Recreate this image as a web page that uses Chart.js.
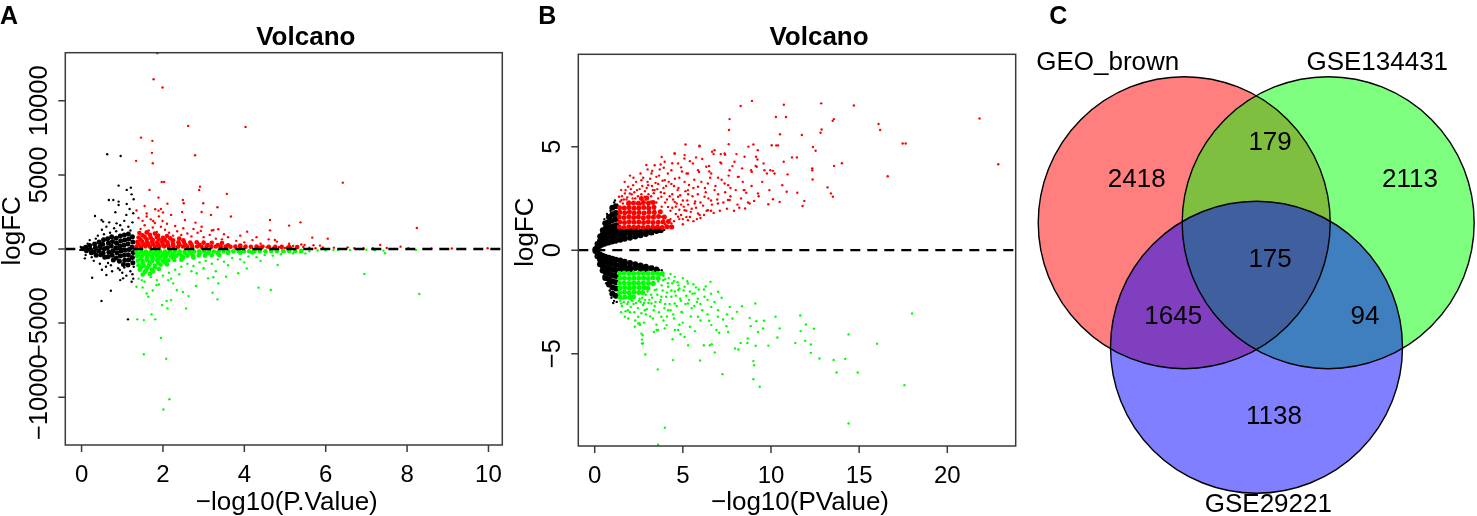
<!DOCTYPE html>
<html>
<head>
<meta charset="utf-8">
<script src="https://cdn.jsdelivr.net/npm/chart.js@4.4.1/dist/chart.umd.min.js"></script>
<style>
  html, body { margin: 0; padding: 0; background: #fff; }
  body { position: relative; width: 1477px; height: 516px; overflow: hidden; }
  canvas { position: absolute; top: 0; }
  #cvA { left: 0; }
  #cvB { left: 505px; }
  #cvC { left: 1025px; }
</style>
</head>
<body>
<canvas id="cvA" width="505" height="516"></canvas>
<canvas id="cvB" width="520" height="516"></canvas>
<canvas id="cvC" width="452" height="516"></canvas>
<script>
'use strict';

// ── Panel A: logFC vs -log10(P.Value) ───────────────────────
const aXTicks = [0, 2, 4, 6, 8, 10];
const aYTicks = [-10000, -5000, 0, 5000, 10000];

// packed core of non-significant genes
const aNsCore = [[0.03,20],[0.1,120],[0.12,-110],[0.2,230],[0.22,-40],[0.24,-260],[0.32,340],[0.34,60],[0.31,-200],[0.36,-420],
  [0.43,480],[0.45,180],[0.42,-110],[0.47,-380],[0.54,620],[0.52,320],[0.56,20],[0.53,-270],[0.57,-560],[0.64,700],[0.66,400],
  [0.63,90],[0.67,-220],[0.65,-520],[0.74,820],[0.76,510],[0.73,200],[0.77,-120],[0.75,-430],[0.78,-740],[0.85,720],[0.86,380],
  [0.84,60],[0.87,-260],[0.85,-600],[0.95,880],[0.96,540],[0.94,200],[0.97,-140],[0.95,-480],[0.93,-820],[1.05,950],[1.06,600],
  [1.04,260],[1.07,-90],[1.05,-420],[1.06,-760],[1.03,-1050],[1.15,1020],[1.16,680],[1.14,330],[1.17,-30],[1.15,-380],[1.16,-720],
  [1.14,-1080],[1.25,830],[1.26,480],[1.24,120],[1.27,-230],[1.25,-580],[1.26,-920]];
const aNs = [[0.63,6400],[0.96,6280],[0.91,4280],[1.11,3990],[1.21,4140],[1.23,3690],[0.67,3310],[0.78,3310],[0.91,3200],[0.91,2970],
  [1.11,3040],[1.28,3360],[0.33,2230],[0.83,2480],[0.49,1960],[0.53,1850],[0.61,1510],[0.86,1730],[1.27,2410],[0.26,-1940],
  [0.72,-2820],[0.49,-3510],[1.14,-4750],[1.02,-1980],[1.23,-2210],[0.61,-1760],[0.94,-1420],[0.08,-630],[0.2,600],[0.3,-800],
  [0.4,900],[0.45,-1000],[0.5,1300],[0.6,-1200],[0.7,1100],[0.75,-1500],[0.8,1400],[0.9,-1300],[0.95,1600],[1.0,-1600],[1.05,1900],
  [1.1,-1800],[1.15,1500],[1.2,-1500],[1.25,1800],[1.28,-1200],[0.55,1000],[0.65,-950],[0.85,1200],[1.0,1300],[1.2,1250],[0.35,700],
  [0.25,-550],[0.15,350],[0.1,-400],[-0.02,140],[-0.03,-60],[1.1,2300],[0.95,-2100],[1.27,-2000],[0.68,1800],[0.5,-1400],[1.18,2700],
  [1.05,-1250],[0.72,-1100],[1.25,-1700]];
const aUpCore = [[1.35,170],[1.46,150],[1.57,180],[1.68,160],[1.8,170],[1.91,150],[2.03,180],[2.14,160],[2.26,170],[2.37,150],[2.49,170],
  [2.6,160],[2.72,150],[2.84,170],[2.95,150],[3.07,160],[3.19,150],[3.3,170],[3.42,150],[3.54,160],[3.66,150],[3.78,160],[3.9,150],
  [4.03,160],[4.16,150],[4.3,160],[4.44,150],[4.6,150],[4.76,140],[4.92,140],[5.1,140],[5.3,130],
  [1.4,320],[1.52,340],[1.64,310],[1.76,330],[1.88,300],[2.0,320],[2.12,310],[2.25,300],[2.4,310],[2.55,290],[2.7,300],[2.9,280],
  [3.1,270],[3.35,260],[3.6,250],[3.9,240],
  [1.37,470],[1.49,500],[1.61,460],[1.73,490],[1.86,450],[1.98,480],[2.11,460],[2.24,490],[2.38,450],[2.52,470],[2.67,440],[2.83,460],
  [3.0,430],[3.2,420],[3.45,400],[1.45,630],[1.6,650],[1.75,610],[1.9,640],[2.05,600],[2.25,590],[2.5,580],
  [1.4,780],[1.55,820],[1.7,760],[1.85,800],[2.0,750],[2.18,720],[2.4,700],[1.5,930],[1.68,950],[1.88,900],[2.1,880],
  [1.42,1080],[1.6,1120],[1.8,1040]];
const aUp = [[1.86,13220],[1.77,11460],[1.99,10900],[2.62,8310],[4.03,8240],[1.46,7520],[1.74,7300],[1.73,6490],[1.75,5790],[1.34,5950],
  [2.79,6330],[1.97,4530],[2.03,4530],[6.42,4480],[2.91,4210],[2.89,3990],[1.67,3990],[3.57,3720],[1.89,3470],[2.49,3310],[2.51,3090],
  [2.11,3060],[2.99,3090],[3.34,2820],[1.81,2680],[1.89,2590],[2.47,2500],[2.95,2500],[2.0,2460],[3.18,2300],[1.6,2190],[3.67,2190],
  [2.54,1960],[4.63,1960],[1.76,1890],[1.99,1890],[2.8,1780],[5.38,1800],[5.1,1580],[8.24,1420],[4.63,1260],[2.93,1220],[4.07,1170],
  [3.24,1280],[3.36,1330],[5.67,770],[6.05,700],[4.75,610],[7.34,270],[6.54,110],[6.93,50],[7.16,50],[7.84,160],[8.03,50],[9.98,50],
  [5.93,110],[5.86,230],[5.48,270],[5.2,200],[5.04,110],[4.36,160],[4.47,200],
  [1.45,1350],[1.55,1600],[1.65,1250],[1.75,1450],[1.85,1150],[1.95,1500],[2.05,1300],[2.15,1100],[2.25,900],[2.35,1200],[2.45,950],
  [2.6,1050],[2.7,850],[2.85,1100],[3.0,800],[3.15,950],[3.3,700],[3.45,650],[3.6,800],[3.8,550],[4.0,450],[4.2,600],[4.4,350],
  [1.4,2100],[1.5,1900],[1.6,2400],[1.7,2000],[1.8,1750],[1.9,2200],[2.1,1700],[2.3,1550],[2.5,1400],[2.75,1350],[2.95,1500],
  [3.2,1250],[3.5,1000],[3.9,900],[4.3,800],[4.8,500],[5.1,350],[5.4,300],[5.7,250],[4.6,650],[1.35,2600],[1.55,2900],[1.95,2700],
  [2.2,2300],[4.55,120],[4.7,90],[4.85,140],[5.0,70],[5.15,110],[5.3,60],[5.45,130],[5.6,80],[5.75,50],[6.2,90],[6.7,60],[7.5,70],
  [8.6,40],[9.1,30]];
const aDownCore = [[1.35,-170],[1.47,-160],[1.58,-180],[1.7,-150],[1.82,-170],[1.93,-160],[2.05,-180],[2.17,-150],[2.29,-170],[2.41,-160],
  [2.53,-180],[2.65,-150],[2.77,-170],[2.89,-160],[3.01,-170],[3.13,-150],[3.25,-170],[3.37,-160],[3.49,-170],[3.61,-150],[3.73,-160],
  [3.86,-150],[3.99,-160],[4.12,-150],[4.25,-160],[4.38,-150],[4.52,-150],[4.66,-140],[4.8,-150],[4.95,-140],[5.1,-140],[5.25,-130],
  [5.4,-130],[1.4,-330],[1.52,-320],[1.64,-340],[1.76,-310],[1.88,-330],[2.0,-320],[2.12,-310],[2.25,-330],[2.4,-310],[2.55,-300],
  [2.7,-310],[2.9,-300],[3.1,-290],[3.35,-280],[3.6,-270],[3.9,-250],[4.2,-240],
  [1.36,-480],[1.48,-510],[1.6,-470],[1.72,-500],[1.84,-460],[1.96,-490],[2.08,-470],[2.2,-500],[2.33,-460],[2.46,-480],
  [2.6,-450],[2.74,-470],[2.88,-440],[3.03,-450],[3.2,-420],[3.38,-410],[1.45,-640],[1.6,-650],[1.75,-620],[1.9,-640],[2.05,-610],
  [2.25,-600],[2.5,-590],[2.75,-580],[1.38,-790],[1.5,-820],[1.62,-780],[1.74,-810],[1.86,-770],
  [1.99,-800],[2.13,-760],[2.28,-740],[2.45,-720],[1.5,-950],[1.68,-960],[1.88,-930],[2.05,-900],
  [1.4,-1100],[1.53,-1130],[1.66,-1080],[1.8,-1110],[1.94,-1060],[2.1,-1040],[1.46,-1250],[1.62,-1260],[1.8,-1230],
  [1.43,-1400],[1.58,-1440],[1.73,-1380],[1.9,-1350],[1.55,-1550],[1.75,-1520],[1.5,-1720],[1.68,-1680]];
const aDown = [[2.01,-10830],[2.16,-10140],[1.53,-7100],[2.08,-7410],[1.95,-6010],[1.37,-4750],[1.53,-4800],[1.81,-4750],[1.72,-4410],
  [1.98,-3780],[2.09,-3510],[2.11,-4010],[2.2,-3450],[3.34,-3400],[3.22,-2950],[2.57,-4010],[2.49,-2900],[2.63,-3180],[2.81,-2500],
  [4.35,-2610],[4.65,-2770],[8.3,-3040],[6.95,-1690],[4.82,-1080],[3.24,-1910],[3.36,-2320],[3.85,-1640],[3.55,-1870],[4.06,-1310],
  [7.46,-290],[7.42,-110],[5.2,-290],[5.0,-180],[5.37,-230],[6.19,-70],[8.22,-70],[2.34,-2770],[2.83,-1640],[3.11,-1980],[2.25,-2320],
  [2.13,-2100],[1.84,-2430],[1.64,-3220],[1.35,-2550],[1.48,-2100],
  [1.4,-2000],[1.55,-2200],[1.7,-1900],[1.85,-2100],[2.0,-1800],[2.15,-1600],[2.3,-1400],[2.45,-1200],[2.6,-1000],[2.75,-1150],
  [2.9,-900],[3.05,-800],[3.2,-1000],[3.35,-700],[3.5,-850],[3.7,-600],[3.9,-700],[4.1,-500],[4.3,-550],[4.5,-400],[4.7,-450],
  [4.9,-350],[5.5,-300],[5.6,-150],[5.8,-100],[6.0,-80],[6.3,-60],[6.6,-70],[7.0,-50],[7.2,-80],[1.5,-2600],[1.75,-2800],[1.6,-3000],
  [2.2,-2000],[2.4,-1700],[2.7,-1500],[3.0,-1300],[3.3,-1500],[3.6,-1100],[4.0,-900],[4.4,-800],[1.9,-2400]];

// ── Panel B: logFC vs -log10(PValue) ────────────────────────
const bXTicks = [0, 5, 10, 15, 20];
const bYTicks = [-5, 0, 5];

const bNsCore = [[0.04,0.04],[0.14,0.12],[0.16,0.3],[0.28,0.2],[0.3,0.44],[0.31,0.66],[0.43,0.27],[0.45,0.5],[0.44,0.74],[0.46,0.96],
  [0.59,0.32],[0.61,0.55],[0.6,0.8],[0.62,1.05],[0.6,1.3],[0.79,0.37],[0.81,0.6],[0.8,0.85],[0.82,1.1],[0.79,1.36],[0.81,1.6],
  [0.99,0.42],[1.01,0.65],[1.0,0.9],[1.02,1.16],[0.99,1.44],[1.01,1.74],[1.0,2.05],[1.19,0.46],[1.21,0.7],[1.2,0.95],[1.22,1.2],
  [1.19,1.5],[1.21,1.8],[1.2,2.12],[1.45,0.5],[1.46,0.73],[1.44,0.92],[1.7,0.55],[1.72,0.78],[1.69,0.93],[2.0,0.6],[2.01,0.8],
  [1.99,0.94],[2.3,0.66],[2.31,0.84],[2.29,0.95],[2.6,0.72],[2.61,0.89],[2.9,0.78],[2.91,0.92],[3.2,0.85],[3.21,0.95],[3.5,0.92],
  [3.75,0.96],[0.04,-0.04],[0.15,-0.12],[0.16,-0.3],[0.29,-0.2],[0.3,-0.45],[0.3,-0.68],[0.44,-0.27],[0.45,-0.52],[0.45,-0.76],[0.45,-0.98],
  [0.6,-0.32],[0.61,-0.56],[0.6,-0.82],[0.62,-1.08],[0.6,-1.34],[0.8,-0.37],[0.8,-0.62],[0.81,-0.88],[0.8,-1.14],[0.8,-1.4],
  [0.81,-1.66],[1.0,-0.42],[1.0,-0.66],[1.01,-0.92],[1.0,-1.2],[1.0,-1.5],[1.01,-1.8],[1.0,-2.1],[1.2,-0.46],[1.2,-0.72],[1.21,-0.97],
  [1.2,-1.25],[1.2,-1.55],[1.21,-1.85],[1.2,-2.2],[1.45,-0.5],[1.46,-0.74],[1.44,-0.93],[1.7,-0.56],[1.71,-0.79],[1.7,-0.94],
  [2.0,-0.62],[2.0,-0.82],[2.0,-0.95],[2.3,-0.68],[2.3,-0.86],[2.6,-0.74],[2.6,-0.9],[2.9,-0.8],[2.9,-0.93],[3.2,-0.87],[3.5,-0.93]];
const bNs = [[0.7,1.75],[0.9,1.9],[1.1,2.3],[0.65,-1.6],[0.85,-1.95],[1.1,-2.45],[1.25,-2.5],[0.95,-2.3],[1.15,2.4],[0.55,1.5],
  [0.5,-1.25],[1.05,-2.55],[3.7,0.95],[3.8,-0.97],[3.3,0.78],[3.3,-0.8],[3.95,0.98],[3.65,-0.96]];
const bUpCore = [[1.4,1.12],[1.67,1.1],[1.94,1.13],[2.21,1.11],[2.48,1.12],[2.75,1.1],[3.02,1.12],[3.29,1.11],[3.56,1.12],[3.83,1.1],
  [4.1,1.13],[4.37,1.12],[1.42,1.36],[1.69,1.34],[1.96,1.37],[2.23,1.35],[2.5,1.36],[2.77,1.34],[3.04,1.37],[3.31,1.33],[3.6,1.35],
  [3.88,1.36],[4.18,1.38],[1.4,1.6],[1.67,1.58],[1.94,1.61],[2.21,1.58],[2.48,1.6],[2.76,1.57],[3.05,1.6],[3.33,1.59],[3.62,1.62],
  [3.95,1.6],[1.43,1.83],[1.7,1.81],[1.97,1.84],[2.24,1.8],[2.52,1.82],[2.8,1.8],[3.08,1.83],[3.38,1.82],[3.72,1.85],
  [1.41,2.05],[1.68,2.03],[1.95,2.06],[2.23,2.02],[2.5,2.04],[2.78,2.06],[3.06,2.03],[3.36,2.07],[1.92,2.27],[2.2,2.28],
  [2.48,2.26],[2.76,2.3],[3.05,2.28],[3.32,2.3],[2.65,2.5],[2.95,2.52]];
const bUp = [[8.92,7.21],[8.28,6.96],[10.73,7.02],[12.85,7.09],[14.7,6.99],[21.83,6.36],[7.65,6.33],[10.28,6.43],[10.85,6.43],[13.5,6.25],
  [13.57,6.33],[16.1,6.09],[16.19,5.8],[7.62,5.8],[10.51,5.6],[11.75,5.56],[12.81,5.67],[12.87,5.83],[17.47,5.15],[17.64,5.15],
  [5.15,5.1],[5.94,5.02],[7.6,5.12],[9.0,5.1],[8.72,5.0],[10.04,5.07],[10.3,5.06],[10.4,5.06],[12.38,4.98],[12.53,4.8],[22.89,4.15],
  [16.62,3.57],[13.58,4.07],[14.02,4.2],[13.21,3.03],[13.4,2.74],[13.51,2.58],[11.89,2.38],[11.79,2.13],[12.34,3.95],[12.34,3.86],
  [12.36,3.41],[11.49,2.77],[11.19,4.48],[11.47,4.48],[10.72,4.27],[10.94,3.66],[10.89,2.82],[10.64,3.14],[10.49,2.33],[10.11,2.46],
  [9.96,3.86],[9.77,3.7],[10.11,3.83],[9.58,4.19],[9.15,4.51],[9.23,4.38],[9.13,4.07],[9.19,4.03],[8.91,3.78],[9.26,2.74],[9.04,2.38],
  [9.85,2.22],[8.45,2.9],[8.6,2.77],[8.36,3.95],[7.81,4.06],[8.04,4.64],[7.4,4.61],[7.15,4.64],[6.74,4.64],[6.66,4.75],[7.13,4.24],
  [6.49,4.07],[5.75,4.48],[4.53,4.67],[5.09,4.43],[3.74,4.14],[3.92,3.98],[3.26,3.82],[5.21,3.7],[5.92,3.78],[8.17,3.54],[7.57,3.14],
  [8.79,2.25],[8.53,2.01],[7.66,2.42],
  [4.54,4.67],[5.95,5.04],[4.73,4.19],[3.69,3.9],[3.22,3.7],[2.65,3.38],[2.18,3.14],[1.71,2.74],[1.99,2.74],[3.03,3.14],[3.97,3.38],
  [5.29,3.7],[5.86,3.86],[6.61,3.7],[7.18,4.19],[7.93,4.27],[8.12,3.54],[7.37,3.22],[6.8,2.9],[6.23,2.58],[5.67,2.25],[5.1,1.93],
  [4.73,1.61],[4.35,1.29],[4.16,2.09],[3.78,2.58],[3.4,2.9],[4.73,2.58],[5.29,2.9],[5.86,3.06],[6.42,3.22],[6.99,2.25],[7.56,2.42],
  [8.5,2.9],[8.87,3.86],[9.25,4.83],[8.5,4.51],[7.65,3.86],[6.8,4.83],[6.33,4.03],[5.57,4.19],[4.35,3.86],[3.5,3.54],[2.84,2.58],
  [2.46,2.33],[2.27,2.09],[3.4,1.93],[3.78,1.61],[5.86,1.77],[6.42,1.93],[5.29,1.45],[4.16,1.13],[3.03,2.17],[4.54,2.33],[1.52,2.42],
  [1.9,3.06],[1.38,2.58],[2.93,4.11],[3.97,4.27],[5.1,4.59],[7.37,4.67],[9.63,3.86],[9.91,2.9],[10.2,3.7],
  [2.0,2.3],[2.3,2.5],[2.6,2.2],[2.9,2.45],[3.2,2.6],[3.5,2.3],[3.8,2.1],[4.1,2.45],[4.4,2.7],[4.7,2.9],[5.0,2.4],[5.3,2.7],[5.6,3.0],
  [3.3,2.9],[3.6,3.2],[3.9,3.0],[4.2,3.3],[4.5,3.1],[4.8,3.5],[5.1,3.3],[2.4,2.9],[2.7,3.1],[3.0,3.3],[1.6,2.25],[1.8,2.45],[2.1,2.7],
  [2.5,1.95],[2.8,2.1],[3.1,1.9],[3.4,1.7],[3.7,1.8],[4.0,1.6],[4.3,1.9],[4.6,2.1],[4.9,1.7],[5.2,1.9],[5.5,2.0],[6.0,2.3],[6.3,2.8],
  [6.6,2.4],[7.0,2.7],[7.3,2.3],[7.7,2.6],[8.1,2.2],[8.3,2.5],[4.0,1.25],[4.5,1.4],[5.0,1.25],[3.9,1.45],[4.2,1.15],[4.8,1.5],
  [5.4,1.6],[5.8,1.5],[6.2,1.7],[6.6,1.9],
  [1.45,2.35],[1.55,2.6],[1.65,2.45],[1.75,2.9],[1.85,2.55],[1.95,2.35],[2.05,2.95],[2.15,2.5],[2.25,2.8],[2.35,3.3],[2.45,2.6],
  [2.55,2.95],[2.65,2.7],[2.75,3.5],[2.85,2.85],[2.95,3.0],[3.05,2.7],[3.15,3.45],[3.25,3.1],[3.35,2.75],[3.45,3.25],[3.55,2.95],
  [3.65,3.6],[3.75,2.8],[3.85,3.35],[3.95,2.75],[4.05,3.1],[4.15,3.7],[4.25,2.6],[4.35,3.2],[4.45,2.45],[4.55,3.45],[4.65,2.25],
  [4.75,3.0],[4.85,2.65],[4.95,3.8],[5.05,2.1],[5.15,2.85],[5.25,2.4],[5.35,3.15],[5.45,1.85],[5.55,2.6],[5.65,3.4],[5.75,2.05],
  [5.85,2.7],[5.95,1.7],[6.05,3.3],[6.15,2.15],[6.25,3.0],[6.35,1.9],[6.45,2.5],[6.55,3.5],[6.65,2.2],[6.75,1.8],[6.85,3.1],[6.95,2.45],
  [7.1,1.9],[7.2,3.4],[7.4,2.8],[7.5,2.0],[7.7,3.0],[7.9,1.9],[8.0,2.9],[8.2,2.05],[8.4,3.3],[8.7,2.3],[8.9,3.1],[9.3,2.6],[9.5,3.3],
  [3.2,2.35],[3.6,2.5],[4.0,2.3],[4.4,2.05],[4.8,1.95],[5.2,1.6],[5.6,1.4],[6.0,1.55],[4.3,1.5],[4.6,1.75],[5.0,1.5],[4.9,2.2],
  [5.3,2.2],[5.7,2.35],[2.2,3.5],[2.6,3.7],[3.0,3.9],[3.4,4.1],[3.8,4.5],[4.4,4.2],[4.9,4.0],[5.4,4.3],[6.1,4.4],[6.5,3.8],[7.0,3.5],
  [7.6,3.6],[1.5,2.9],[1.7,3.3],[1.9,2.2],[2.0,3.6]];
const bDownCore = [[1.4,-1.12],[1.67,-1.1],[1.94,-1.13],[2.21,-1.11],[2.48,-1.12],[2.75,-1.1],[3.02,-1.12],[3.29,-1.11],[3.56,-1.12],
  [3.83,-1.13],[1.42,-1.36],[1.69,-1.34],[1.96,-1.37],[2.23,-1.35],[2.5,-1.36],[2.77,-1.34],[3.04,-1.37],[3.3,-1.33],[3.6,-1.36],
  [1.4,-1.6],[1.67,-1.58],[1.94,-1.61],[2.21,-1.58],[2.48,-1.6],[2.76,-1.57],[3.05,-1.6],[3.32,-1.6],[1.43,-1.83],[1.7,-1.81],
  [1.97,-1.84],[2.24,-1.8],[2.52,-1.82],[2.8,-1.8],[3.02,-1.84],[1.41,-2.05],[1.68,-2.03],[1.95,-2.06],[2.23,-2.02],[2.5,-2.04],
  [2.72,-2.05],[1.44,-2.27],[1.72,-2.26],[2.0,-2.28],[2.2,-2.25]];
const bDown = [[18.0,-3.06],[14.4,-4.07],[16.02,-4.52],[17.57,-6.52],[14.4,-8.37],[3.98,-8.58],[3.6,-9.4],[14.92,-5.91],[13.72,-5.91],
  [13.55,-5.3],[14.21,-5.25],[12.75,-5.23],[12.26,-4.96],[12.26,-4.56],[11.94,-4.38],[11.98,-3.59],[11.68,-3.91],[12.43,-3.8],
  [11.66,-3.16],[11.38,-4.48],[9.36,-6.6],[9.0,-6.23],[9.0,-5.36],[9.04,-5.56],[9.13,-4.62],[9.11,-2.58],[9.17,-3.43],[9.26,-3.95],
  [8.79,-3.27],[8.85,-3.67],[9.6,-3.41],[9.55,-3.78],[9.85,-4.61],[10.26,-3.22],[10.49,-3.78],[10.36,-4.22],[8.68,-4.27],[8.66,-4.48],
  [8.28,-4.48],[7.96,-4.75],[8.15,-4.8],[7.25,-5.99],[5.98,-5.33],[4.45,-5.31],[3.58,-5.76],[2.87,-5.04],[2.68,-4.51],[2.68,-4.32],
  [2.72,-4.11],[2.47,-3.54],[2.57,-3.62],[3.36,-3.95],[3.51,-3.86],[3.98,-3.78],[4.08,-3.62],[4.55,-3.86],[4.42,-4.3],[4.87,-4.06],
  [5.3,-4.59],[5.68,-3.91],[6.19,-4.59],[6.53,-4.59],[6.64,-4.54],[6.81,-4.94],[6.49,-3.41],[6.62,-3.62],[6.91,-3.86],[7.06,-3.99],
  [7.28,-3.35],[7.47,-3.67],[7.57,-3.95],[7.81,-3.3],[8.08,-2.98],[8.36,-2.71],[7.66,-2.74],[6.57,-1.53],[7.0,-2.01],
  [1.51,-2.58],[1.89,-2.9],[2.46,-3.22],[2.55,-3.54],[2.65,-4.03],[2.74,-4.51],[3.59,-3.86],[3.78,-3.22],[4.16,-2.9],[4.54,-2.58],
  [4.92,-2.98],[5.29,-2.58],[5.67,-2.09],[4.73,-1.93],[4.16,-1.77],[3.78,-2.25],[3.22,-2.58],[2.84,-2.9],[2.08,-2.42],[1.71,-3.22],
  [2.27,-3.7],[4.35,-2.25],[5.1,-1.77],[6.23,-2.25],[6.61,-2.74],[6.99,-3.22],[5.86,-3.22],[4.73,-3.86],[5.1,-4.19],[3.4,-1.93],
  [3.88,-1.45],[4.54,-1.29],[5.29,-1.61],[3.59,-1.29],
  [1.6,-2.35],[1.9,-2.5],[2.2,-2.6],[2.5,-2.45],[2.8,-2.55],[3.1,-2.4],[3.4,-2.7],[3.7,-2.5],[4.0,-2.6],[4.3,-2.9],[4.6,-2.2],
  [4.9,-2.45],[5.2,-2.2],[5.5,-2.8],[5.8,-2.5],[6.1,-2.9],[2.0,-3.0],[2.9,-3.1],[3.3,-3.3],[3.9,-3.4],[4.5,-3.3],[5.0,-3.5],[6.4,-3.1],
  [3.5,-1.9],[3.8,-1.7],[4.1,-2.05],[4.4,-1.6],[4.8,-1.85],[5.0,-1.35],[5.4,-2.0],[5.9,-1.9],[6.3,-1.75],[3.7,-1.2],[4.0,-1.4],
  [4.3,-1.15],[4.7,-1.55],[5.6,-1.65],
  [1.45,-2.45],[1.55,-2.7],[1.65,-2.5],[1.75,-2.95],[1.85,-2.6],[1.95,-2.35],[2.05,-2.75],[2.15,-2.45],[2.25,-3.0],[2.35,-2.55],
  [2.45,-2.8],[2.55,-2.35],[2.65,-3.05],[2.75,-2.65],[2.85,-2.4],[2.95,-2.85],[3.05,-2.55],[3.15,-3.2],[3.25,-2.3],[3.35,-2.9],
  [3.45,-2.5],[3.55,-2.15],[3.65,-3.0],[3.75,-2.4],[3.85,-1.95],[3.95,-2.8],[4.05,-2.25],[4.15,-1.6],[4.25,-2.6],[4.35,-1.95],
  [4.45,-3.1],[4.55,-2.0],[4.65,-2.7],[4.75,-1.7],[4.85,-2.35],[4.95,-3.0],[5.05,-1.95],[5.15,-2.6],[5.25,-1.5],[5.35,-2.4],
  [5.45,-3.2],[5.55,-2.1],[5.65,-2.7],[5.75,-1.8],[5.85,-2.35],[6.0,-2.6],[6.2,-1.9],[6.4,-2.4],[6.6,-2.1],[6.8,-2.5],[7.0,-2.9],
  [7.2,-2.3],[7.5,-3.1],[3.9,-1.25],[4.2,-1.35],[4.5,-1.5],[3.6,-1.5],[3.3,-1.7],[3.0,-2.0],[3.2,-2.15],[2.7,-2.3],[2.9,-2.15],
  [2.6,-2.5],[1.5,-3.0],[1.9,-3.3],[2.3,-3.4],[2.8,-3.5],[3.5,-3.6],[4.1,-3.2],[4.8,-3.6],[5.4,-3.7],[6.0,-3.4]];

// ── Panel C: Venn counts ────────────────────────────────────
const vennSets = ['GEO_brown', 'GSE134431', 'GSE29221'];
const vennCounts = [2418, 179, 2113, 175, 1645, 94, 1138];
// layout in circle-radius units: circle centres, count and name anchors
const vennCentres = [[-0.493, 0], [0.493, 0], [0.002, -0.853]];
const vennCountPos = [[-0.818, 0.292], [0.095, 0.544], [1.053, 0.292], [0.095, -0.251], [-0.568, -0.644], [0.745, -0.644], [0.122, -1.329]];
const vennNamePos = [[-1.017, 1.097], [0.829, 1.097], [0.083, -1.934]];

const FONT = '"Liberation Sans", Arial, Helvetica, sans-serif';
const fmt = v => (v < 0 ? '\u2212' + Math.abs(v) : String(v));

// ── R-style frame, ticks, labels, dashed zero line ──────────
const rFrame = {
    id: 'rFrame',
    afterDatasetsDraw(chart, args, o) {
        const { ctx, chartArea: a, scales: { x, y } } = chart;
        const y0 = y.getPixelForValue(0);
        ctx.save();
        ctx.strokeStyle = '#000';
        ctx.lineWidth = 2.4;
        ctx.setLineDash([10, 7]);
        ctx.beginPath(); ctx.moveTo(a.left, y0); ctx.lineTo(a.right, y0); ctx.stroke();
        ctx.setLineDash([]);

        ctx.strokeStyle = '#3a3a3a';
        ctx.lineWidth = 1.5;
        ctx.strokeRect(a.left, a.top, a.right - a.left, a.bottom - a.top);
        ctx.beginPath();
        o.xTicks.forEach(v => { const p = x.getPixelForValue(v); ctx.moveTo(p, a.bottom); ctx.lineTo(p, a.bottom + 7); });
        o.yTicks.forEach(v => { const p = y.getPixelForValue(v); ctx.moveTo(a.left, p); ctx.lineTo(a.left - 7, p); });
        ctx.stroke();

        ctx.fillStyle = '#000';
        ctx.textAlign = 'center';
        ctx.textBaseline = 'alphabetic';
        ctx.font = `24px ${FONT}`;
        o.xTicks.forEach(v => ctx.fillText(fmt(v), x.getPixelForValue(v), a.bottom + 36.5));
        ctx.font = `25.5px ${FONT}`;
        o.yTicks.forEach(v => {
            ctx.save();
            ctx.translate(a.left - 18.5, y.getPixelForValue(v));
            ctx.rotate(-Math.PI / 2);
            ctx.fillText(fmt(v), 0, 0);
            ctx.restore();
        });

        const cx = (a.left + a.right) / 2;
        ctx.font = `bold 26px ${FONT}`;
        ctx.fillText(o.title, cx + 22, 44.5);
        ctx.font = `26px ${FONT}`;
        ctx.fillText(o.xTitle, cx + 3, 510);
        ctx.save();
        ctx.translate(a.left - 45, (a.top + a.bottom) / 2 - 18);
        ctx.rotate(-Math.PI / 2);
        ctx.fillText(o.yTitle, 0, 0);
        ctx.restore();

        ctx.font = `bold 25px ${FONT}`;
        ctx.textAlign = 'left';
        ctx.fillText(o.letter, o.letterX, 24);
        ctx.restore();
    }
};

const pts = (data, color, r, order) => ({
    data, order,
    backgroundColor: color, borderColor: color, borderWidth: 0,
    pointRadius: r, pointHoverRadius: r
});

const volcano = (id, sets, pad, xr, yr, coreR, nsR, frame) => new Chart(document.getElementById(id), {
    type: 'scatter',
    data: {
        datasets: [
            pts(sets.up, '#ff0000', 1.2, 1), pts(sets.upCore, '#ff0000', coreR, 1),
            pts(sets.down, '#00ff00', 1.2, 2), pts(sets.downCore, '#00ff00', coreR, 2),
            pts(sets.ns, '#000000', 1.2, 3), pts(sets.nsCore, '#000000', nsR, 3)
        ]
    },
    options: {
        responsive: false, animation: false, events: [],
        layout: { padding: pad },
        plugins: { legend: { display: false }, tooltip: { enabled: false }, rFrame: frame },
        scales: {
            x: { type: 'linear', display: false, min: xr[0], max: xr[1] },
            y: { type: 'linear', display: false, min: yr[0], max: yr[1] }
        }
    },
    plugins: [rFrame]
});

volcano('cvA', { up: aUp, upCore: aUpCore, down: aDown, downCore: aDownCore, ns: aNs, nsCore: aNsCore },
    { left: 65.3, right: 2.7, top: 52.7, bottom: 71 }, [-0.40, 10.34], [-13230, 13250], 2.3, 2.5,
    { xTicks: aXTicks, yTicks: aYTicks, title: 'Volcano', xTitle: '\u2212log10(P.Value)', yTitle: 'logFC', letter: 'A', letterX: 0 });

volcano('cvB', { up: bUp, upCore: bUpCore, down: bDown, downCore: bDownCore, ns: bNs, nsCore: bNsCore },
    { left: 73.3, right: 9.3, top: 54.3, bottom: 70 }, [-0.93, 23.88], [-9.46, 9.46], 2.5, 3,
    { xTicks: bXTicks, yTicks: bYTicks, title: 'Volcano', xTitle: '\u2212log10(PValue)', yTitle: 'logFC', letter: 'B', letterX: 33.3 });

// ── Venn: three translucent circles + outlines ──────────────
const unitPx = c => c.chart.scales.x.getPixelForValue(1) - c.chart.scales.x.getPixelForValue(0);
const vennPts = vennCentres.map(([x, y]) => ({ x, y }));
const circle = (data, fill, stroke, order) => ({
    data, order,
    backgroundColor: fill, borderColor: stroke, borderWidth: stroke === 'transparent' ? 0 : 1.4,
    pointRadius: unitPx, pointHoverRadius: unitPx
});

const vennText = {
    id: 'vennText',
    afterDatasetsDraw(chart) {
        const { ctx, scales: { x, y } } = chart;
        ctx.save();
        ctx.fillStyle = '#000';
        ctx.font = `26px ${FONT}`;
        ctx.textAlign = 'center';
        ctx.textBaseline = 'middle';
        vennCounts.forEach((n, i) => ctx.fillText(String(n), x.getPixelForValue(vennCountPos[i][0]), y.getPixelForValue(vennCountPos[i][1])));
        vennSets.forEach((s, i) => ctx.fillText(s, x.getPixelForValue(vennNamePos[i][0]), y.getPixelForValue(vennNamePos[i][1])));
        ctx.font = `bold 25px ${FONT}`;
        ctx.textAlign = 'left';
        ctx.textBaseline = 'alphabetic';
        ctx.fillText('C', 24.3, 24);
        ctx.restore();
    }
};

new Chart(document.getElementById('cvC'), {
    type: 'scatter',
    data: {
        datasets: [
            circle(vennPts, 'transparent', '#000', 0),
            circle([vennPts[2]], 'rgba(0,0,255,0.5)', 'transparent', 1),
            circle([vennPts[1]], 'rgba(0,255,0,0.5)', 'transparent', 2),
            circle([vennPts[0]], 'rgba(255,0,0,0.5)', 'transparent', 3)
        ]
    },
    options: {
        responsive: false, animation: false, events: [],
        layout: { padding: 0 },
        plugins: { legend: { display: false }, tooltip: { enabled: false } },
        scales: {
            x: { type: 'linear', display: false, min: -1.5836, max: 1.5123 },
            y: { type: 'linear', display: false, min: -2.0089, max: 1.5253 }
        }
    },
    plugins: [vennText]
});
</script>
</body>
</html>
